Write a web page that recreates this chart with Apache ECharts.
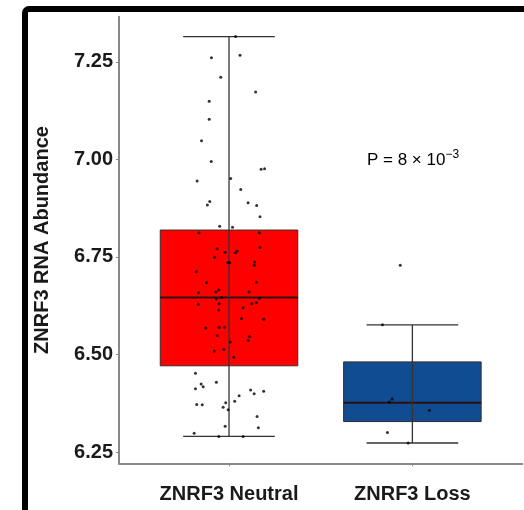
<!DOCTYPE html>
<html>
<head>
<meta charset="utf-8">
<script src="https://cdn.jsdelivr.net/npm/echarts@6/dist/echarts.min.js"></script>
<style>
  html, body { margin: 0; padding: 0; background: #ffffff; }
  #chart { width: 524px; height: 510px; }
</style>
</head>
<body>
<div id="chart"></div>
<script>
// Groups on the x axis (placed at 1 and 2)
const categories = ['ZNRF3 Neutral', 'ZNRF3 Loss'];
const groupColors = ['#FF0000', '#104C91'];

// Box statistics per group
const lowerWhisker = [6.290, 6.273];
const quartile1    = [6.471, 6.328];
const medians      = [6.646, 6.376];
const quartile3    = [6.819, 6.481];
const upperWhisker = [7.315, 6.576];

// Y tick labels
const yTicks = [6.25, 6.50, 6.75, 7.00, 7.25];

// Individual samples: RNA abundance and horizontal jitter (in group units)
const neutralValues = [
  7.315, 7.261, 7.267, 7.211, 7.173, 7.149, 7.103, 7.048, 6.995, 6.975,
  6.976, 6.945, 6.951, 6.923, 6.892, 6.883, 6.889, 6.882, 6.853, 6.829,
  6.826, 6.812, 6.812, 6.771, 6.774, 6.762, 6.765, 6.761, 6.749, 6.736,
  6.735, 6.737, 6.729, 6.712, 6.684, 6.685, 6.665, 6.660, 6.658, 6.660,
  6.646, 6.642, 6.644, 6.629, 6.630, 6.630, 6.633, 6.620, 6.614, 6.592,
  6.590, 6.568, 6.570, 6.570, 6.548, 6.546, 6.536, 6.532, 6.513, 6.509,
  6.493, 6.452, 6.424, 6.417, 6.412, 6.429, 6.409, 6.399, 6.406, 6.394,
  6.372, 6.371, 6.380, 6.376, 6.365, 6.358, 6.341, 6.312, 6.316, 6.298,
  6.290, 6.290
];
const neutralJitter = [
  0.036, -0.096, 0.060, -0.045, 0.145, -0.108, -0.108, -0.150, -0.097, 0.175,
  0.194, -0.174, 0.009, 0.064, -0.105, -0.118, 0.104, 0.151, 0.169, -0.051,
  0.019, -0.164, 0.165, -0.065, 0.169, -0.021, 0.044, 0.035, -0.078, -0.007,
  0.004, 0.140, 0.137, -0.179, -0.123, 0.149, -0.056, -0.072, -0.167, 0.109,
  -0.040, -0.070, 0.165, -0.167, -0.054, 0.124, 0.149, 0.077, -0.056, 0.068,
  0.189, -0.127, -0.054, -0.025, -0.065, 0.111, 0.104, 0.008, -0.029, -0.081,
  0.026, -0.183, -0.152, -0.141, -0.183, -0.069, 0.118, 0.137, 0.189, 0.055,
  -0.176, -0.146, 0.031, -0.018, -0.032, -0.005, 0.153, 0.160, -0.021, -0.190,
  -0.056, 0.077
];
const lossValues = [6.729, 6.576, 6.386, 6.378, 6.357, 6.300, 6.273];
const lossJitter = [-0.066, -0.163, -0.110, -0.126, 0.093, -0.136, -0.023];

const pValueText = 'P = 8 × 10';
const pValueExp = '−3';

const boxData = categories.map((c, i) => [
  i + 1, lowerWhisker[i], quartile1[i], medians[i], quartile3[i], upperWhisker[i]
]);
const pointData = neutralValues.map((v, i) => [1 + neutralJitter[i], v])
  .concat(lossValues.map((v, i) => [2 + lossJitter[i], v]));

const BOX_HALF = 0.375;
const CAP_HALF = 0.25;
const FONT = '"Liberation Sans", Arial, sans-serif';

function renderBox(params, api) {
  const x = api.value(0);
  const lo = api.value(1), q1 = api.value(2), med = api.value(3),
        q3 = api.value(4), hi = api.value(5);
  const tl = api.coord([x - BOX_HALF, q3]);
  const br = api.coord([x + BOX_HALF, q1]);
  const mL = api.coord([x - BOX_HALF, med]);
  const mR = api.coord([x + BOX_HALF, med]);
  const top = api.coord([x, hi]);
  const bot = api.coord([x, lo]);
  const capTL = api.coord([x - CAP_HALF, hi]);
  const capTR = api.coord([x + CAP_HALF, hi]);
  const capBL = api.coord([x - CAP_HALF, lo]);
  const capBR = api.coord([x + CAP_HALF, lo]);
  const lineStyle = { stroke: '#333333', lineWidth: 1.3 };
  return {
    type: 'group',
    children: [
      {
        type: 'rect',
        shape: { x: tl[0], y: tl[1], width: br[0] - tl[0], height: br[1] - tl[1] },
        style: { fill: groupColors[params.dataIndex], stroke: '#3a2a2a', lineWidth: 1 }
      },
      {
        type: 'line',
        shape: { x1: mL[0], y1: mL[1], x2: mR[0], y2: mR[1] },
        style: { stroke: '#2a1010', lineWidth: 2 }
      },
      {
        type: 'line',
        shape: { x1: top[0], y1: top[1], x2: bot[0], y2: bot[1] },
        style: lineStyle
      },
      {
        type: 'line',
        shape: { x1: capTL[0], y1: capTL[1], x2: capTR[0], y2: capTR[1] },
        style: lineStyle
      },
      {
        type: 'line',
        shape: { x1: capBL[0], y1: capBL[1], x2: capBR[0], y2: capBR[1] },
        style: lineStyle
      }
    ]
  };
}

const chart = echarts.init(document.getElementById('chart'), null, { renderer: 'canvas' });
chart.setOption({
  animation: false,
  backgroundColor: '#ffffff',
  grid: { left: 119, right: 1.6, top: 16.7, bottom: 46.7 },
  xAxis: {
    type: 'value',
    min: 0.4,
    max: 2.6,
    splitLine: { show: false },
    axisLine: { show: true, lineStyle: { color: '#888888', width: 2 } },
    axisTick: { show: true, length: 3, customValues: [1, 2], lineStyle: { color: '#888888', width: 1 } },
    axisLabel: {
      customValues: [1, 2],
      formatter: v => categories[Math.round(v) - 1],
      margin: 21,
      color: '#1a1a1a',
      fontSize: 20,
      fontWeight: 'bold',
      fontFamily: FONT
    }
  },
  yAxis: {
    type: 'value',
    min: 6.221,
    max: 7.366,
    splitLine: { show: false },
    axisLine: { show: true, lineStyle: { color: '#888888', width: 2 } },
    axisTick: { show: true, length: 3, customValues: yTicks, lineStyle: { color: '#888888', width: 1 } },
    axisLabel: {
      customValues: yTicks,
      formatter: v => v.toFixed(2),
      margin: 6,
      color: '#1a1a1a',
      fontSize: 20,
      fontWeight: 'bold',
      fontFamily: FONT
    }
  },
  series: [
    {
      type: 'custom',
      renderItem: renderBox,
      encode: { x: 0, y: [1, 2, 3, 4, 5] },
      data: boxData,
      z: 2
    },
    {
      type: 'scatter',
      data: pointData,
      symbol: 'circle',
      symbolSize: 3,
      itemStyle: { color: '#000000' },
      z: 3
    }
  ],
  graphic: [
    {
      type: 'rect',
      shape: { x: 25, y: 9, width: 620, height: 620, r: 4 },
      style: { fill: 'none', stroke: '#000000', lineWidth: 6 },
      z: 10
    },
    {
      type: 'text',
      x: 42.5,
      y: 240,
      rotation: Math.PI / 2,
      style: {
        text: 'ZNRF3 RNA Abundance',
        fill: '#1a1a1a',
        font: 'bold 20px ' + FONT,
        textAlign: 'center',
        textVerticalAlign: 'middle'
      },
      z: 10
    },
    {
      type: 'text',
      x: 413,
      y: 160,
      style: {
        text: '{b|' + pValueText + '}{s|' + pValueExp + '}',
        textAlign: 'center',
        textVerticalAlign: 'middle',
        rich: {
          b: { fontSize: 17, fontFamily: FONT, color: '#1a1a1a' },
          s: { fontSize: 12, fontFamily: FONT, color: '#1a1a1a', verticalAlign: 'top', padding: [0, 0, 11, 0] }
        }
      },
      z: 10
    }
  ]
});
</script>
</body>
</html>
